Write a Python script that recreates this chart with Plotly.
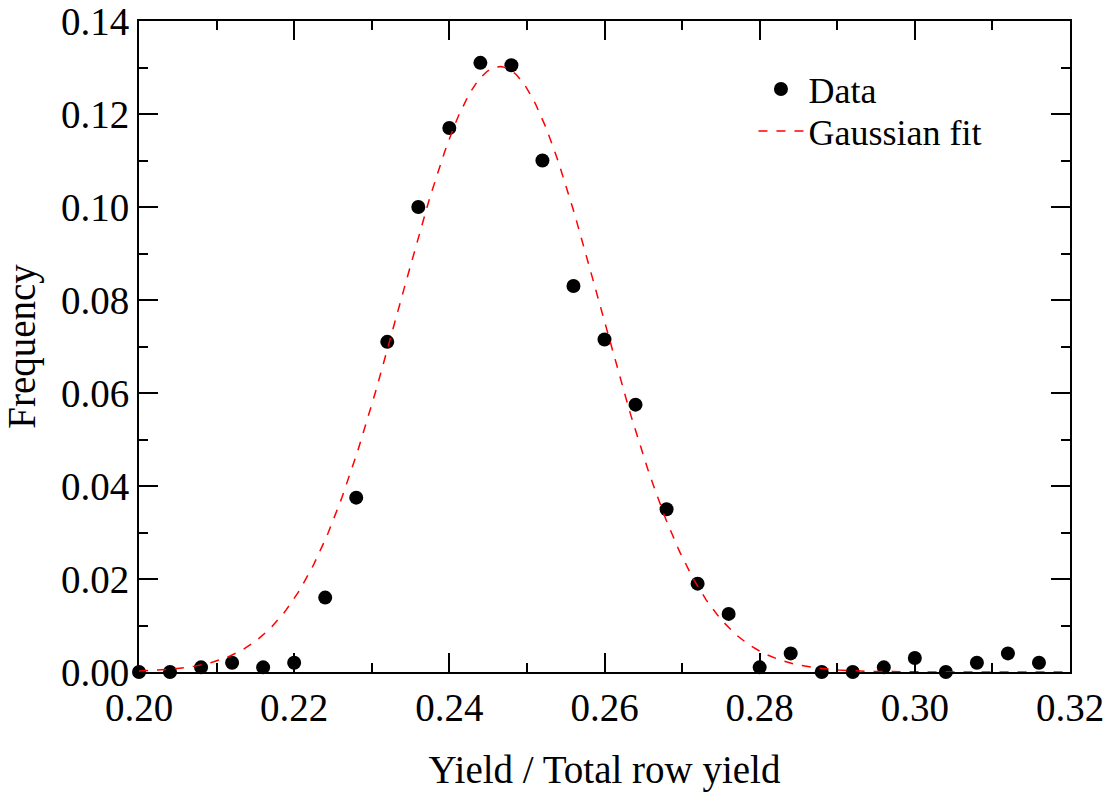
import plotly.graph_objects as go
import numpy as np

# Data points (yield ratio bins and observed frequency)
x_data = [0.200, 0.204, 0.208, 0.212, 0.216, 0.220, 0.224, 0.228, 0.232, 0.236,
          0.240, 0.244, 0.248, 0.252, 0.256, 0.260, 0.264, 0.268, 0.272, 0.276,
          0.280, 0.284, 0.288, 0.292, 0.296, 0.300, 0.304, 0.308, 0.312, 0.316]
y_data = [0.000, 0.000, 0.001, 0.002, 0.001, 0.002, 0.016, 0.0375, 0.071, 0.100,
          0.117, 0.131, 0.1305, 0.110, 0.083, 0.0715, 0.0575, 0.035, 0.019, 0.0125,
          0.001, 0.004, 0.000, 0.000, 0.001, 0.003, 0.000, 0.002, 0.004, 0.002]

# Gaussian fit parameters
fit_amp = 0.1302
fit_mean = 0.2465
fit_sigma = 0.0129
fit_x = np.linspace(0.200, 0.32, 400)
fit_y = fit_amp * np.exp(-((fit_x - fit_mean) ** 2) / (2 * fit_sigma ** 2))

FONT = "Liberation Serif, Times New Roman, serif"
FS = 39
LEG_FS = 36

fig = go.Figure()
fig.add_trace(go.Scatter(
    x=x_data, y=y_data, mode="markers", name="Data", legend="legend",
    marker=dict(color="black", size=14, line=dict(width=0)),
    cliponaxis=False,
))
fig.add_trace(go.Scatter(
    x=fit_x, y=fit_y, mode="lines", name="Gaussian fit", legend="legend2",
    line=dict(color="red", width=1.5, dash="dash"),
))

axis_common = dict(
    showline=True, linecolor="black", linewidth=2,
    mirror="allticks", ticks="inside", ticklen=19, tickwidth=1.5, tickcolor="black",
    showgrid=False, zeroline=False, automargin=False,
    tickfont=dict(family=FONT, size=FS, color="black"),
    tickformat=".2f", ticklabeloverflow="allow",
)

legend_common = dict(
    xanchor="left", yanchor="middle",
    font=dict(family=FONT, size=LEG_FS, color="black"),
    bgcolor="rgba(0,0,0,0)", borderwidth=0,
    itemwidth=45,
)

fig.update_layout(
    width=1114, height=792,
    margin=dict(l=139, r=44, t=21, b=120),
    paper_bgcolor="white", plot_bgcolor="white",
    font=dict(family=FONT, color="black"),
    showlegend=True,
    legend=dict(**legend_common, x=0.66, y=0.8955),
    legend2=dict(**legend_common, x=0.66, y=0.831),
    xaxis=dict(
        **axis_common,
        range=[0.20, 0.32], dtick=0.02, tick0=0.20,
        minor=dict(dtick=0.01, ticklen=9, ticks="inside", tickcolor="black", tickwidth=1.5),
        ticklabelstandoff=0,
        title=dict(text="Yield / Total row yield", font=dict(family=FONT, size=FS), standoff=38),
    ),
    yaxis=dict(
        **axis_common,
        range=[0.0, 0.14], dtick=0.02, tick0=0.0,
        minor=dict(dtick=0.01, ticklen=9, ticks="inside", tickcolor="black", tickwidth=1.5),
        ticklabelstandoff=0,
        title=dict(text="Frequency", font=dict(family=FONT, size=FS), standoff=22),
    ),
)

fig.write_html("out.html")
